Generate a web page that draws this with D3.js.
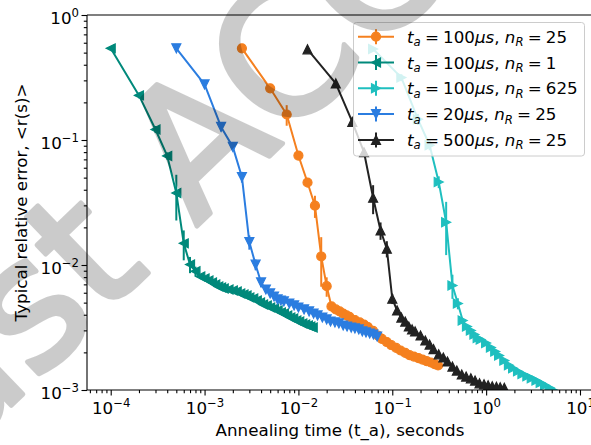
<!DOCTYPE html>
<html>
<head>
<meta charset="utf-8">
<script src="https://cdn.jsdelivr.net/npm/d3@7"></script>
<style>
  body { margin: 0; background: #fff; }
  svg { display: block; }
  text { font-family: "DejaVu Sans", sans-serif; }
</style>
</head>
<body>
<svg id="chart" width="591" height="445"></svg>
<script>
// ---- axis setup ----
const xDomain = [5.59e-5, 13.76];
const yDomain = [1e-3, 1];
const xMajorTicks = [1e-4, 1e-3, 1e-2, 1e-1, 1e0, 1e1];
const xTickExponents = ["\u22124", "\u22123", "\u22122", "\u22121", "0", "1"];
const yMajorTicks = [1e-3, 1e-2, 1e-1, 1e0];
const yTickExponents = ["\u22123", "\u22122", "\u22121", "0"];
const xLabel = "Annealing time (t_a), seconds";
const yLabel = "Typical relative error, <r(s)>";

// ---- series descriptions (legend order) ----
const seriesTa = ["100", "100", "100", "20", "500"];
const seriesNr = ["25", "1", "625", "25", "25"];
const seriesColors = ["#f5801f", "#00897b", "#1fbfbf", "#2b7de0", "#222222"];
const seriesMarkers = ["circle", "left", "right", "down", "up"];

// t_a = 100us, n_R = 25
const tOrange = [0.0025, 0.005, 0.0075, 0.01, 0.0125, 0.015, 0.0175, 0.02, 0.0225, 0.025, 0.0275, 0.03, 0.0325, 0.035, 0.04, 0.045, 0.05, 0.055, 0.0625, 0.07, 0.0775, 0.0875, 0.0975, 0.11, 0.1225, 0.1375, 0.1525, 0.17, 0.19, 0.21, 0.2325, 0.2575, 0.2825, 0.3075];
const rOrange = [0.541, 0.259, 0.160, 0.0751, 0.0457, 0.0298, 0.0117, 0.00677, 0.00466, 0.00441, 0.00425, 0.00409, 0.00395, 0.00384, 0.00363, 0.00347, 0.00334, 0.00319, 0.00297, 0.00273, 0.00256, 0.00242, 0.00229, 0.00217, 0.00207, 0.00198, 0.00190, 0.00185, 0.00180, 0.00175, 0.00170, 0.00166, 0.00161, 0.00157];
const eOrange = [0.01, 0.008, 0.03, 0.006, 0.004, 0.006, 0.005, 0.0012, 0.0004];

// t_a = 100us, n_R = 1
const tTeal = [0.0001, 0.0002, 0.0003, 0.0004, 0.0005, 0.0006, 0.0007, 0.0008, 0.0009, 0.001, 0.0011, 0.0012, 0.0013, 0.0014, 0.0015, 0.0016, 0.0018, 0.002, 0.0022, 0.0024, 0.0026, 0.0028, 0.003, 0.0033, 0.0036, 0.0039, 0.0042, 0.0046, 0.005, 0.0055, 0.006, 0.0065, 0.007, 0.0076, 0.0082, 0.0088, 0.0095, 0.0102, 0.011, 0.0118, 0.0126, 0.0134, 0.0142];
const rTeal = [0.541, 0.2274, 0.1214, 0.0746, 0.0377, 0.0149, 0.0101, 0.0089, 0.00810, 0.00781, 0.00752, 0.00725, 0.00699, 0.00674, 0.00661, 0.00649, 0.00637, 0.00626, 0.00614, 0.00592, 0.00581, 0.00571, 0.00550, 0.00540, 0.00520, 0.00502, 0.00483, 0.00475, 0.00457, 0.00449, 0.00433, 0.00417, 0.00409, 0.00395, 0.00380, 0.00373, 0.00360, 0.00353, 0.00341, 0.00334, 0.00328, 0.00322, 0.00316];
const eTeal = [0.01, 0.012, 0.008, 0.005, 0.015, 0.004, 0.0015, 0.0008];

// t_a = 100us, n_R = 625
const tCyan = [0.0625, 0.125, 0.1875, 0.25, 0.3125, 0.375, 0.4375, 0.5, 0.5625, 0.625, 0.6875, 0.75, 0.8125, 0.875, 1.0, 1.125, 1.25, 1.375, 1.5625, 1.75, 1.9375, 2.1875, 2.4375, 2.75, 3.0625, 3.4375, 3.8125, 4.25, 4.75, 5.25, 5.75];
const rCyan = [0.534, 0.3156, 0.1468, 0.0908, 0.0462, 0.0220, 0.00686, 0.00492, 0.00360, 0.00322, 0.00299, 0.00278, 0.00261, 0.00253, 0.00238, 0.00219, 0.00203, 0.00189, 0.00172, 0.00158, 0.00149, 0.00141, 0.00134, 0.00129, 0.00124, 0.00119, 0.00114, 0.00109, 0.00104, 0.00099, 0.00095];
const eCyan = [0.01, 0.02, 0.015, 0.008, 0.005, 0.010, 0.0015, 0.0005];

// t_a = 20us, n_R = 25
const tBlue = [0.0005, 0.001, 0.0015, 0.002, 0.0025, 0.003, 0.0035, 0.004, 0.0045, 0.005, 0.0055, 0.006, 0.0065, 0.007, 0.008, 0.009, 0.01, 0.0115, 0.013, 0.0145, 0.016, 0.018, 0.02, 0.022, 0.0245, 0.027, 0.03, 0.033, 0.0365, 0.04, 0.044, 0.048, 0.0525, 0.0575, 0.063, 0.069];
const rBlue = [0.541, 0.2785, 0.1273, 0.0881, 0.0506, 0.01526, 0.01006, 0.00725, 0.00637, 0.00592, 0.00560, 0.00530, 0.00520, 0.00511, 0.00492, 0.00475, 0.00457, 0.00441, 0.00425, 0.00409, 0.00395, 0.00380, 0.00367, 0.00353, 0.00347, 0.00341, 0.00328, 0.00322, 0.00316, 0.00311, 0.00305, 0.00294, 0.00289, 0.00283, 0.00278, 0.00268];
const eBlue = [0.01, 0.012, 0.01, 0.006, 0.005, 0.002, 0.001, 0.0006];

// t_a = 500us, n_R = 25
const tBlack = [0.0125, 0.025, 0.0375, 0.05, 0.0625, 0.075, 0.0875, 0.1, 0.1125, 0.125, 0.1375, 0.15, 0.1625, 0.175, 0.2, 0.225, 0.25, 0.275, 0.3125, 0.35, 0.3875, 0.4375, 0.4875, 0.55, 0.6125, 0.6875, 0.7625, 0.85, 0.95, 1.05, 1.1625, 1.2875, 1.4125, 1.5625];
const rBlack = [0.531, 0.2836, 0.1396, 0.0798, 0.0345, 0.0189, 0.0135, 0.00537, 0.00433, 0.00380, 0.00353, 0.00322, 0.00305, 0.00294, 0.00273, 0.00249, 0.00231, 0.00212, 0.00193, 0.00182, 0.00169, 0.00154, 0.00143, 0.00133, 0.00128, 0.00124, 0.00119, 0.00113, 0.00111, 0.00109, 0.00107, 0.00106, 0.00105, 0.00104];
const eBlack = [0.01, 0.012, 0.01, 0.006, 0.009, 0.003, 0.002, 0.0005];

const seriesT = [tOrange, tTeal, tCyan, tBlue, tBlack];
const seriesR = [rOrange, rTeal, rCyan, rBlue, rBlack];
const seriesE = [eOrange, eTeal, eCyan, eBlue, eBlack];

// ---- layout ----
const plot = { left: 87, right: 593, top: 15, bottom: 390 };
const FS = 16.7;       // base font size
const SUP = 11.7;      // superscript / subscript size
const MS = 9;          // marker size
const LW = 2;          // line width

const svg = d3.select("#chart");

const x = d3.scaleLog().domain(xDomain).range([plot.left, plot.right]);
const y = d3.scaleLog().domain(yDomain).range([plot.bottom, plot.top]);

svg.append("defs").append("clipPath").attr("id", "plotClip")
  .append("rect")
  .attr("x", plot.left).attr("y", plot.top)
  .attr("width", plot.right - plot.left).attr("height", plot.bottom - plot.top);

// minor tick positions for log axes
function minorTicks(domain) {
  const out = [];
  for (let e = -6; e <= 2; e++) {
    for (let m = 2; m <= 9; m++) {
      const v = m * Math.pow(10, e);
      if (v >= domain[0] && v <= domain[1]) out.push(v);
    }
  }
  return out;
}

// ---- data marks ----
function markerPath(kind, s) {
  const h = s / 2;
  switch (kind) {
    case "up":    return `M0,${-h}L${-h},${h}L${h},${h}Z`;
    case "down":  return `M0,${h}L${-h},${-h}L${h},${-h}Z`;
    case "left":  return `M${-h},0L${h},${-h}L${h},${h}Z`;
    case "right": return `M${h},0L${-h},${-h}L${-h},${h}Z`;
    default:      return d3.symbol(d3.symbolCircle, Math.PI * h * h)();
  }
}

const dataLayer = svg.append("g").attr("clip-path", "url(#plotClip)");
const line = d3.line().x(d => x(d.t)).y(d => y(d.r));

seriesT.forEach((ts, si) => {
  const color = seriesColors[si];
  const pts = ts.map((t, i) => ({ t, r: seriesR[si][i], e: seriesE[si][i] || 0 }));
  const g = dataLayer.append("g");
  g.append("path")
    .datum(pts)
    .attr("d", line)
    .attr("fill", "none")
    .attr("stroke", color)
    .attr("stroke-width", LW)
    .attr("stroke-linejoin", "round");
  g.selectAll("line.err")
    .data(pts.filter(p => p.e > 0))
    .join("line")
    .attr("class", "err")
    .attr("x1", p => x(p.t)).attr("x2", p => x(p.t))
    .attr("y1", p => y(Math.max(p.r - p.e, 1e-6))).attr("y2", p => y(p.r + p.e))
    .attr("stroke", color)
    .attr("stroke-width", LW);
  g.selectAll("path.mk")
    .data(pts)
    .join("path")
    .attr("class", "mk")
    .attr("d", markerPath(seriesMarkers[si], MS))
    .attr("transform", p => `translate(${x(p.t)},${y(p.r)})`)
    .attr("fill", color)
    .attr("stroke", color)
    .attr("stroke-width", 1.2);
});

// ---- axes ----
const axisColor = "#000";
const xAxisG = svg.append("g").attr("transform", `translate(0,${plot.bottom})`);
xAxisG.call(d3.axisBottom(x).tickValues(minorTicks(xDomain)).tickSize(3.2).tickFormat(""));
xAxisG.call(g => g.select(".domain").remove());
const xMajorG = svg.append("g").attr("transform", `translate(0,${plot.bottom})`);
xMajorG.call(d3.axisBottom(x).tickValues(xMajorTicks).tickSize(5.5).tickFormat(""));
xMajorG.call(g => g.select(".domain").remove());
xMajorG.selectAll(".tick").each(function (d, i) {
  const t = d3.select(this).append("text")
    .attr("y", 24).attr("text-anchor", "middle")
    .attr("fill", "#000").style("font-size", FS + "px");
  t.append("tspan").text("10");
  t.append("tspan").attr("dy", -7).style("font-size", SUP + "px").text(xTickExponents[i]);
});

const yAxisG = svg.append("g").attr("transform", `translate(${plot.left},0)`);
yAxisG.call(d3.axisLeft(y).tickValues(minorTicks(yDomain)).tickSize(3.2).tickFormat(""));
yAxisG.call(g => g.select(".domain").remove());
const yMajorG = svg.append("g").attr("transform", `translate(${plot.left},0)`);
yMajorG.call(d3.axisLeft(y).tickValues(yMajorTicks).tickSize(5.5).tickFormat(""));
yMajorG.call(g => g.select(".domain").remove());
yMajorG.selectAll(".tick").each(function (d, i) {
  const t = d3.select(this).append("text")
    .attr("x", -8).attr("y", 8).attr("text-anchor", "end")
    .attr("fill", "#000").style("font-size", FS + "px");
  t.append("tspan").text("10");
  t.append("tspan").attr("dy", -7).style("font-size", SUP + "px").text(yTickExponents[i]);
});
svg.selectAll(".tick line").attr("stroke", axisColor).attr("stroke-width", 1.1);

// spines
const spines = svg.append("g").attr("stroke", axisColor).attr("stroke-width", 1.1).attr("fill", "none");
spines.append("line").attr("x1", plot.left).attr("x2", plot.left).attr("y1", plot.top).attr("y2", plot.bottom);
spines.append("line").attr("x1", plot.left).attr("x2", plot.right).attr("y1", plot.bottom).attr("y2", plot.bottom);
spines.append("line").attr("x1", plot.left).attr("x2", plot.right).attr("y1", plot.top).attr("y2", plot.top);
spines.append("line").attr("x1", plot.right).attr("x2", plot.right).attr("y1", plot.top).attr("y2", plot.bottom);

// axis titles
svg.append("text")
  .attr("x", (plot.left + plot.right) / 2).attr("y", 436)
  .attr("text-anchor", "middle").style("font-size", FS + "px")
  .text(xLabel);
svg.append("text")
  .attr("transform", `translate(27,${(plot.top + plot.bottom) / 2}) rotate(-90)`)
  .attr("text-anchor", "middle").style("font-size", FS + "px")
  .text(yLabel);

// ---- legend ----
const legend = svg.append("g");
legend.append("rect")
  .attr("x", 353.5).attr("y", 22.5).attr("width", 231).attr("height", 133.5)
  .attr("rx", 3).attr("ry", 3)
  .attr("fill", "#fff").attr("fill-opacity", 0.8)
  .attr("stroke", "#cccccc").attr("stroke-width", 1);

const eqSpace = "\u2005=\u2005";
seriesTa.forEach((ta, i) => {
  const cy = 36.7 + i * 25.8;
  const color = seriesColors[i];
  const row = legend.append("g");
  row.append("line").attr("x1", 358).attr("x2", 394).attr("y1", cy).attr("y2", cy)
    .attr("stroke", color).attr("stroke-width", LW);
  row.append("line").attr("x1", 376).attr("x2", 376).attr("y1", cy - 7.5).attr("y2", cy + 7.5)
    .attr("stroke", color).attr("stroke-width", LW);
  row.append("path").attr("d", markerPath(seriesMarkers[i], MS))
    .attr("transform", `translate(376,${cy})`)
    .attr("fill", color).attr("stroke", color).attr("stroke-width", 1.2);

  const t = row.append("text").attr("x", 407).attr("y", cy + 6).style("font-size", FS + "px");
  t.append("tspan").style("font-style", "italic").text("t");
  t.append("tspan").style("font-style", "italic").style("font-size", SUP + "px").attr("dy", 3.5).text("a");
  t.append("tspan").attr("dy", -3.5).text(eqSpace + ta);
  t.append("tspan").style("font-style", "italic").text("\u03bcs");
  t.append("tspan").text(", ");
  t.append("tspan").style("font-style", "italic").text("n");
  t.append("tspan").style("font-style", "italic").style("font-size", SUP + "px").attr("dy", 3.5).text("R");
  t.append("tspan").attr("dy", -3.5).text(eqSpace + seriesNr[i]);
});

// ---- diagonal stamp over the figure ----
const stamp = svg.append("g")
  .attr("transform", "translate(196,227) rotate(-44)")
  .attr("opacity", 0.2)
  .attr("pointer-events", "none")
  .style("font-family", "'DejaVu Sans', sans-serif")
  .style("font-size", "178px");
stamp.append("text").attr("x", -62).attr("text-anchor", "end")
  .attr("fill", "#000").attr("stroke", "#000").attr("stroke-width", 5)
  .attr("stroke-linejoin", "round").text("Just");
stamp.append("text").attr("x", 0)
  .attr("fill", "#000").attr("stroke", "#000").attr("stroke-width", 5)
  .attr("stroke-linejoin", "round").text("ACCEPTED");
</script>
</body>
</html>
